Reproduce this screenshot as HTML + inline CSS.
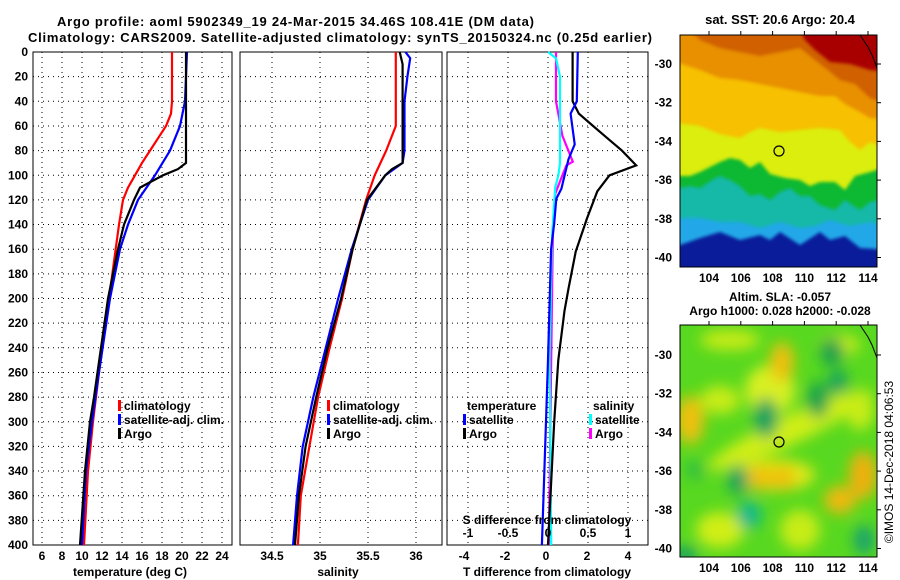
<!DOCTYPE html>
<html><head><meta charset="utf-8">
<style>
html,body{margin:0;padding:0;background:#fff;}
svg{display:block;font-family:"Liberation Sans",Arial,sans-serif;}
.t{font-weight:bold;font-size:13px;fill:#000;}
.tk{font-weight:bold;font-size:12px;fill:#000;}
.grid{stroke:#000;stroke-width:1;stroke-dasharray:1,4;}
</style></head>
<body>
<svg id="c" width="900" height="580" viewBox="0 0 900 580">
<text class="t" x="57" y="26" textLength="477">Argo profile: aoml 5902349_19 24-Mar-2015 34.46S 108.41E (DM data)</text>
<text class="t" x="28" y="42" textLength="624">Climatology: CARS2009. Satellite-adjusted climatology: synTS_20150324.nc (0.25d earlier)</text>

<g id="maps">
<defs>
<clipPath id="clipTop"><rect x="680" y="35" width="197" height="232"/></clipPath>
<clipPath id="clipBot"><rect x="680" y="325" width="197" height="232"/></clipPath>
<filter id="blur" x="-20%" y="-20%" width="140%" height="140%"><feGaussianBlur stdDeviation="7"/></filter>
<filter id="blur2" x="-20%" y="-20%" width="140%" height="140%"><feGaussianBlur stdDeviation="1.5"/></filter>
</defs>
<text class="t" x="780" y="24" text-anchor="middle">sat. SST: 20.6 Argo: 20.4</text>
<g clip-path="url(#clipTop)">
<rect x="680" y="35" width="197" height="232" fill="#0a1c9a"/>
<polygon filter="url(#blur2)" fill="#22a8e8" points="670,30 890,30 890,250 860,248 845,236 830,240 820,232 800,245 780,232 770,240 760,235 740,240 720,232 700,238 680,245 670,245"/>
<polygon filter="url(#blur2)" fill="#14b8a8" points="670,30 890,30 890,228 870,222 850,226 830,220 815,226 800,228 780,222 760,228 740,222 720,222 700,218 670,218"/>
<polygon filter="url(#blur2)" fill="#10b830" points="670,30 890,30 890,198 870,202 860,210 845,200 835,210 820,205 810,196 800,196 790,188 780,192 770,200 760,194 750,196 740,186 730,180 720,176 712,180 700,188 690,186 670,190"/>
<polygon filter="url(#blur2)" fill="#dcee10" points="670,30 890,30 890,166 870,172 855,176 845,190 835,182 820,182 810,186 800,180 785,178 770,174 760,162 750,168 740,160 730,158 720,162 712,166 700,172 690,176 670,176"/>
<polygon filter="url(#blur2)" fill="#f7c000" points="670,30 890,30 890,150 870,142 860,150 848,140 840,130 820,128 800,130 780,132 760,128 750,132 740,138 720,134 700,126 670,122"/>
<polygon filter="url(#blur2)" fill="#e89000" points="670,30 890,30 890,120 870,118 860,112 845,104 835,96 820,96 800,92 780,88 760,84 740,80 720,78 700,70 670,60"/>
<polygon filter="url(#blur2)" fill="#d06000" points="690,30 890,30 890,105 870,98 855,84 840,80 828,70 815,60 800,48 780,52 760,56 740,52 720,48 700,40"/>
<polygon filter="url(#blur2)" fill="#a80000" points="800,30 890,30 890,72 870,70 850,64 830,62 815,50 805,40"/>
<circle cx="779" cy="151" r="5" fill="none" stroke="#000" stroke-width="1.2"/>
<polyline points="860,35 868,47 872,55 877,68" fill="none" stroke="#000" stroke-width="1"/>
</g>
<rect x="680" y="35" width="197" height="232" fill="none" stroke="#000"/>
<text class="tk" x="780" y="301" text-anchor="middle">Altim. SLA: -0.057</text>
<text class="tk" x="780" y="315" text-anchor="middle">Argo h1000: 0.028 h2000: -0.028</text>
<g clip-path="url(#clipBot)">
<rect x="680" y="325" width="197" height="232" fill="#58d820"/>
<g filter="url(#blur)">
<ellipse cx="730" cy="340" rx="30" ry="10" fill="#c8ec18"/>
<ellipse cx="840" cy="345" rx="20" ry="10" fill="#c8ec18"/>
<ellipse cx="770" cy="390" rx="25" ry="25" fill="#d8f020"/>
<ellipse cx="782" cy="362" rx="12" ry="20" fill="#f0c010"/>
<ellipse cx="690" cy="420" rx="14" ry="24" fill="#f0c010"/>
<ellipse cx="720" cy="400" rx="20" ry="14" fill="#c8ec18"/>
<ellipse cx="790" cy="430" rx="90" ry="14" fill="#d0ee18" transform="rotate(-25 790 430)"/>
<ellipse cx="775" cy="475" rx="40" ry="16" fill="#e0e818"/>
<ellipse cx="760" cy="478" rx="14" ry="12" fill="#f0c010"/>
<ellipse cx="783" cy="478" rx="12" ry="12" fill="#f0c010"/>
<ellipse cx="863" cy="475" rx="14" ry="24" fill="#f0b010"/>
<ellipse cx="840" cy="500" rx="16" ry="14" fill="#f0b810"/>
<ellipse cx="860" cy="410" rx="14" ry="20" fill="#c8ec18"/>
<ellipse cx="720" cy="530" rx="24" ry="18" fill="#d0ee18"/>
<ellipse cx="800" cy="530" rx="20" ry="20" fill="#c8ec18"/>
<ellipse cx="766" cy="418" rx="12" ry="20" fill="#18a060"/>
<ellipse cx="738" cy="480" rx="10" ry="15" fill="#18a060"/>
<ellipse cx="749" cy="515" rx="12" ry="14" fill="#10b890"/>
<ellipse cx="818" cy="400" rx="11" ry="18" fill="#18a050"/>
<ellipse cx="838" cy="382" rx="10" ry="12" fill="#18a060"/>
<ellipse cx="832" cy="352" rx="12" ry="14" fill="#18a050"/>
<ellipse cx="864" cy="540" rx="10" ry="15" fill="#18a070"/>
<ellipse cx="685" cy="556" rx="12" ry="10" fill="#18a060"/>
<ellipse cx="695" cy="470" rx="10" ry="10" fill="#30c040"/>
</g>
<circle cx="779" cy="442" r="5" fill="none" stroke="#000" stroke-width="1.2"/>
<polyline points="860,325 868,337 872,345 877,358" fill="none" stroke="#000" stroke-width="1"/>
</g>
<rect x="680" y="325" width="197" height="232" fill="none" stroke="#000"/>
<text x="893" y="462" font-size="12" text-anchor="middle" transform="rotate(-90 893 462)">©IMOS 14-Dec-2018 04:06:53</text>
</g>
</svg>
<script>
// ---- profile data ----
const tDepth   = [0,40,50,60,70,80,90,100,110,120,140,200,260,300,340,400];
const tClim    = [19.0,19.0,18.9,18.4,17.6,16.8,16.0,15.3,14.6,14.1,13.7,12.7,11.7,11.1,10.6,10.2];
const tSatDepth= [0,40,60,80,100,120,140,160,200,260,300,340,400];
const tSat     = [20.5,20.3,19.8,18.8,17.3,15.6,14.6,13.8,12.8,11.7,11.0,10.4,10.0];
const tArgoDepth=[0,90,95,100,110,120,140,160,200,240,280,300,340,400];
const tArgo    = [20.4,20.4,19.6,18.1,15.8,15.2,14.2,13.6,12.6,11.9,11.2,10.8,10.3,9.8];

const sDepth   = [0,60,80,100,120,160,200,240,280,320,360,400];
const sClim    = [35.79,35.79,35.69,35.57,35.48,35.34,35.23,35.10,34.98,34.89,34.80,34.77];
const sSatDepth= [0,5,20,40,80,90,100,120,160,200,240,280,320,360,400];
const sSat     = [35.89,35.94,35.91,35.88,35.88,35.86,35.68,35.50,35.33,35.19,35.06,34.93,34.82,34.76,34.72];
const sArgoDepth=[0,10,90,95,100,120,160,200,240,280,320,360,400];
const sArgo    = [35.83,35.86,35.86,35.75,35.68,35.49,35.34,35.22,35.08,34.96,34.85,34.78,34.74];

const dTDepth  = [0,40,50,60,70,80,92,100,113,135,162,192,210,250,300,400];
const dTArgo   = [1.3,1.3,1.6,2.3,3.0,3.7,4.4,3.1,2.5,2.0,1.45,1.1,0.9,0.6,0.4,0.1];
const dTSatDepth=[0,40,50,75,87,111,119,139,160,250,300,400];
const dTSat    = [1.55,1.5,1.2,1.4,1.1,0.75,0.5,0.4,0.25,0.1,0,-0.2];
const dSDepth  = [0,40,68,89,92,100,115,150,250,400];
const dSArgo   = [0.1,0.1,0.18,0.31,0.23,0.18,0.09,0.06,0.04,0.01];
const dSSatDepth=[0,5,20,90,100,110,150,250,400];
const dSSat    = [0,0.1,0.15,0.15,0.13,0.09,0.05,0.02,0.04];

const depthTicks = [0,20,40,60,80,100,120,140,160,180,200,220,240,260,280,300,320,340,360,380,400];
const tempTicks  = [6,8,10,12,14,16,18,20,22,24];
const salTicks   = [34.5,35,35.5,36];
const dTTicks    = [-4,-2,0,2,4];
const dSTicks    = [-1,-0.5,0,0.5,1];

const svg = document.getElementById('c');
const NS = 'http://www.w3.org/2000/svg';
const TOP=52, BOT=545;
const yD = d => TOP + d*(BOT-TOP)/400;
const xT = t => 42 + (t-6)*10;
const xS = s => 272 + (s-34.5)*96;
const xdT = v => 546 + v*20.5;
const xdS = v => 548 + v*80;

function mk(tag, attrs){const e=document.createElementNS(NS,tag);for(const k in attrs)e.setAttribute(k,attrs[k]);svg.appendChild(e);return e;}
function txt(x,y,s,anchor,cls){const e=mk('text',{x:x,y:y,'text-anchor':anchor||'middle','class':cls||'tk'});e.textContent=s;return e;}

function panel(name,x0,x1,xf,ticks,showY){
  const g=mk('rect',{x:x0,y:TOP,width:x1-x0,height:BOT-TOP,fill:'none',stroke:'#000'});
  
  
  depthTicks.forEach(d=>{
    if(d>0&&d<400){const l=mk('line',{x1:x0,x2:x1,y1:yD(d),y2:yD(d),'class':'grid'});
      
      }
    if(showY){const t=txt(28,yD(d)+4,String(d),'end');
      
      }
  });
  ticks.forEach(v=>{
    const x=xf(v);
    const l=mk('line',{x1:x,x2:x,y1:TOP,y2:BOT,'class':'grid'});
    
    
  });
}
function line(name,depths,vals,xf,color){
  const pts=depths.map((d,i)=>xf(vals[i]).toFixed(1)+','+yD(d).toFixed(1)).join(' ');
  const p=mk('polyline',{points:pts,fill:'none',stroke:color,'stroke-width':2.2});
  
  
}
function xlabels(name,ticks,xf,y,fmt){
  ticks.forEach(v=>{const t=txt(xf(v),y,fmt?fmt(v):String(v));
    
    });
}
function legend(name,x,y,items){
  items.forEach((it,i)=>{
    const r=mk('rect',{x:x,y:y+i*14-10,width:3,height:11,fill:it[1]});
    
    
    const t=txt(x+6,y+i*14,it[0],'start');
    
    
  });
}

// panel 1
panel('temperature-panel',33,232,xT,tempTicks,true);
line('temperature-climatology',tDepth,tClim,xT,'#ff0000');
line('temperature-satellite',tSatDepth,tSat,xT,'#0000ff');
line('temperature-argo',tArgoDepth,tArgo,xT,'#000000');
xlabels('temperature',tempTicks,xT,560);
let a=txt(130,576,'temperature (deg C)');


legend('temperature-legend',118,410,[['climatology','#ff0000'],['satellite-adj. clim.','#0000ff'],['Argo','#000']]);

// panel 2
panel('salinity-panel',240,442,xS,salTicks,false);
line('salinity-climatology',sDepth,sClim,xS,'#ff0000');
line('salinity-satellite',sSatDepth,sSat,xS,'#0000ff');
line('salinity-argo',sArgoDepth,sArgo,xS,'#000000');
xlabels('salinity',salTicks,xS,560);
a=txt(338,576,'salinity');


legend('salinity-legend',327,410,[['climatology','#ff0000'],['satellite-adj. clim.','#0000ff'],['Argo','#000']]);

// panel 3
panel('difference-panel',447,648,xdS,dSTicks,false);
line('salinity-diff-argo',dSDepth,dSArgo,xdS,'#ff00ff');
line('salinity-diff-satellite',dSSatDepth,dSSat,xdS,'#00ffff');
line('temperature-diff-argo',dTDepth,dTArgo,xdT,'#000000');
line('temperature-diff-satellite',dTSatDepth,dTSat,xdT,'#0000ff');
xlabels('temperature-diff',dTTicks,xdT,560);
xlabels('salinity-diff',dSTicks,xdS,537);
a=txt(547,576,'T difference from climatology');


a=txt(547,524,'S difference from climatology');


a=txt(467,410,'temperature','start');


a=txt(593,410,'salinity','start');


legend('temperature-diff-legend',463,424,[['satellite','#0000ff'],['Argo','#000']]);
legend('salinity-diff-legend',589,424,[['satellite','#00ffff'],['Argo','#ff00ff']]);

// map axes
const lonTicks=[104,106,108,110,112,114];
const latTicks=[-30,-32,-34,-36,-38,-40];
const xLon = lon => 709 + (lon-104)*15.9;
function mapAxes(name,top,bot,lat30){
  const yLat = la => lat30 + (-30-la)*19.35;
  lonTicks.forEach(l=>{
    const t=txt(xLon(l),bot+15,String(l));
    
    
    const k=mk('line',{x1:xLon(l),x2:xLon(l),y1:top-4,y2:top,stroke:'#000'});
    
    
  });
  latTicks.forEach(l=>{
    const t=txt(672,yLat(l)+4,String(l),'end');
    
    
    const k=mk('line',{x1:877,x2:881,y1:yLat(l),y2:yLat(l),stroke:'#000'});
    
    
  });
}
mapAxes('sst-map',35,267,64);
mapAxes('sla-map',325,557,355);
</script>
</body></html>
